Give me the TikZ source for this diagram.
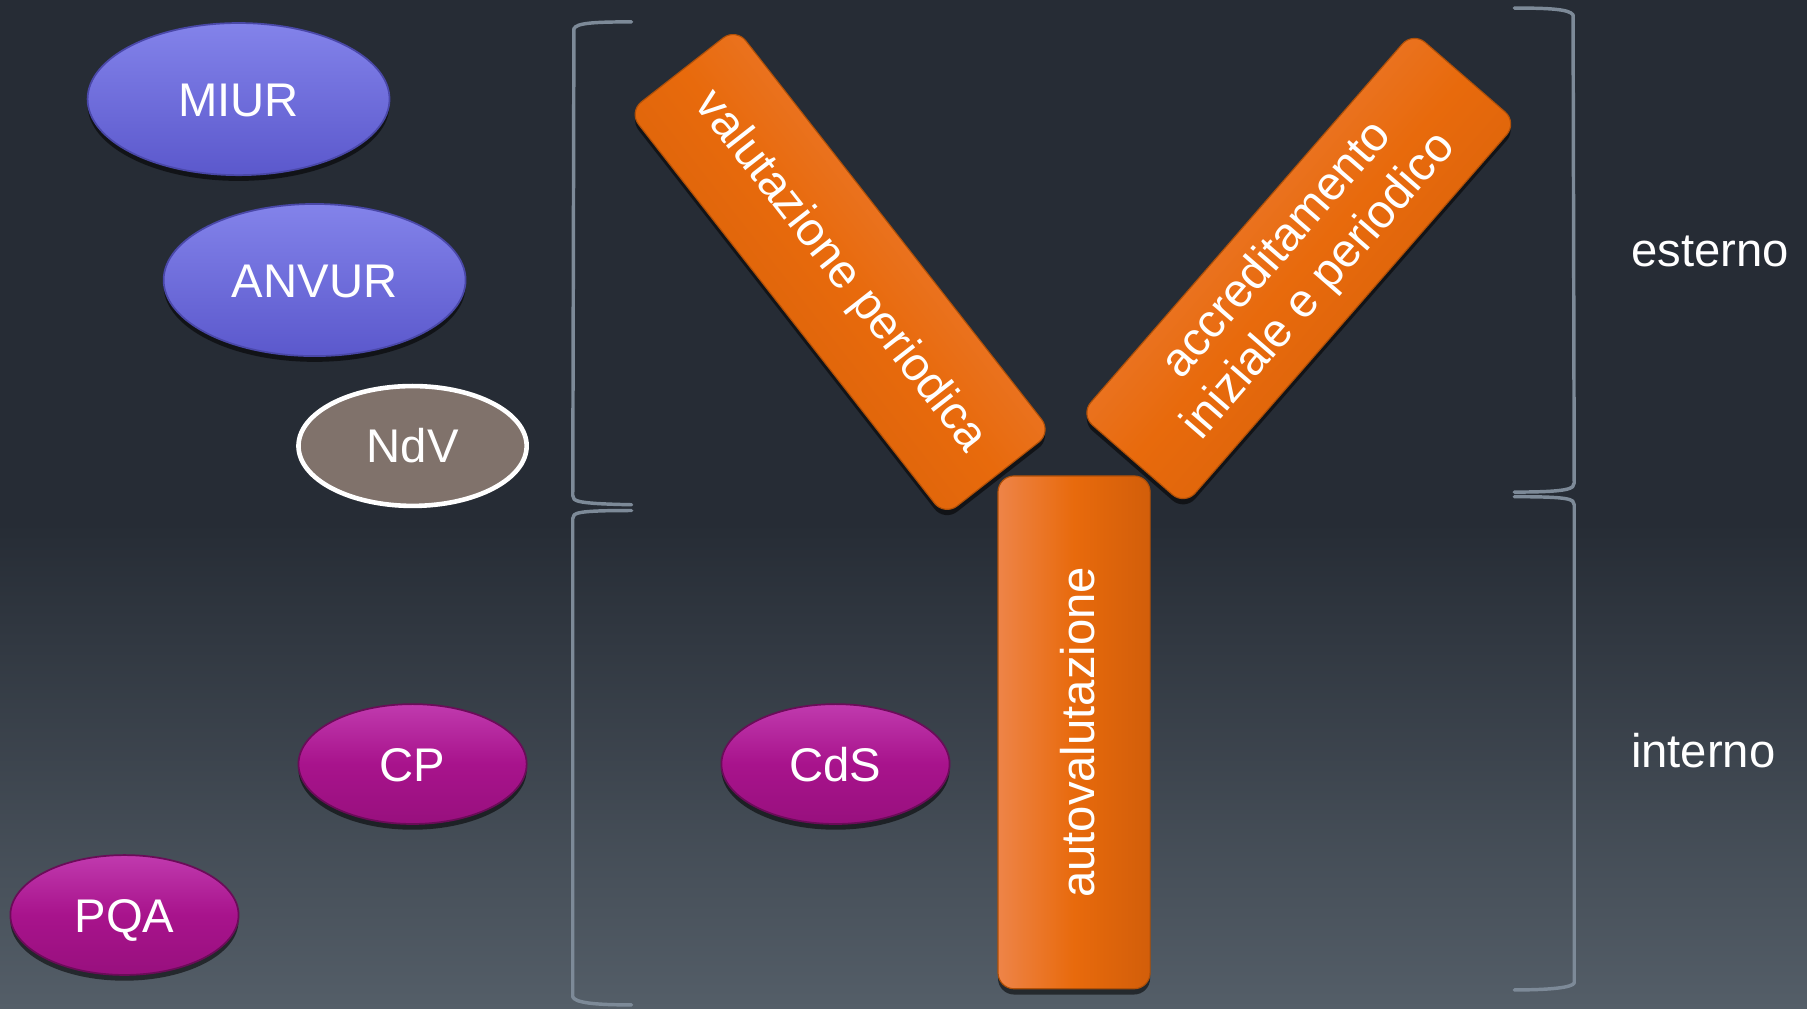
\documentclass[tikz,border=0pt]{standalone}
\usepackage{fontspec}
\setmainfont{Liberation Sans}
\usetikzlibrary{shapes.geometric,shadows}
\definecolor{bgtop}{HTML}{262C35}
\definecolor{bgbot}{HTML}{545E68}
\definecolor{brk}{HTML}{7D8A98}
\definecolor{blueT}{HTML}{8383EA}
\definecolor{blueB}{HTML}{5B58CC}
\definecolor{blueE}{HTML}{4A48A8}
\definecolor{magT}{HTML}{C03AAE}
\definecolor{magM}{HTML}{A8138C}
\definecolor{magB}{HTML}{98107E}
\definecolor{magE}{HTML}{6A0C58}
\definecolor{ndv}{HTML}{80726B}
\definecolor{orL}{HTML}{EE8448}
\definecolor{orM}{HTML}{E86A0C}
\definecolor{orR}{HTML}{D25E0A}
\definecolor{orE}{HTML}{B05008}
\tikzset{
  txt/.style={text=white,font=\fontsize{41}{48}\selectfont},
  caps/.style={text height=29.5pt,text depth=0pt},
  shad/.style={drop shadow={shadow xshift=0pt,shadow yshift=-5pt,opacity=0.55,fill=black}},
  blueell/.style={ellipse,inner sep=0pt,minimum width=262pt,minimum height=132pt,
    top color=blueT,bottom color=blueB,draw=blueE,line width=1.5pt,shad,txt,caps},
  magell/.style={ellipse,inner sep=0pt,minimum width=198pt,minimum height=104pt,
    top color=magT,bottom color=magB,middle color=magM,draw=magE,line width=1.5pt,shad,txt,caps},
  arm/.style={rectangle,rounded corners=14pt,inner sep=0pt,align=center,
    top color=orL,bottom color=orR,middle color=orM,draw=orE,line width=1pt,shad,txt},
  brace/.style={draw=brk,line width=3pt,line join=round,line cap=round},
}
\begin{document}
\begin{tikzpicture}[x=1pt,y=1pt]
\useasboundingbox (0,0) rectangle (1568,875);
\fill[bgtop] (0,420) rectangle (1568,875);
\shade[top color=bgtop,bottom color=bgbot] (0,0) rectangle (1568,421);

% brackets left
\coordinate (la1) at (548,856);
\coordinate (la2) at (548,437);
\coordinate (lb1) at (548,432);
\coordinate (lb2) at (548,3);
\draw[brace] (la1) .. controls (515,856) and (500,855) .. (498,850) -- (497,445)
  .. controls (497,440) and (500,438) .. (la2);
\draw[brace] (lb1) .. controls (500,432) and (497,430) .. (497,425) -- (497,10)
  .. controls (499,5) and (515,3) .. (lb2);
% brackets right
\coordinate (ra1) at (1314,868);
\coordinate (ra2) at (1314,448);
\coordinate (rb1) at (1314,444);
\coordinate (rb2) at (1314,16);
\draw[brace] (ra1) .. controls (1345,868) and (1362,867) .. (1365,862) -- (1366,456)
  .. controls (1366,451) and (1362,448) .. (ra2);
\draw[brace] (rb1) .. controls (1362,444) and (1366,442) .. (1366,437) -- (1366,22)
  .. controls (1364,18) and (1345,16) .. (rb2);

% ellipses
\node[blueell] (miur) at (207,789) {MIUR};
\node[blueell] (anvur) at (273,632) {ANVUR};
\node[ellipse,inner sep=0pt,minimum width=198pt,minimum height=104pt,fill=ndv,
  draw=white,line width=4pt,txt,caps] (ndv) at (358,488) {NdV};
\node[magell] (cp) at (358,212) {CP};
\node[magell] (cds) at (725,212) {CdS};
\node[magell] (pqa) at (108,81) {PQA};

% Y shape
\node[arm,shading angle=-52,minimum width=445pt,minimum height=118pt,rotate=-52] (vp) at (729,639)
  {valutazione periodica};
\node[arm,shading angle=49,minimum width=440pt,minimum height=120pt,rotate=49] (acc) at (1127,642)
  {accreditamento\\iniziale e periodico};
\node[arm,shading angle=90,minimum width=445pt,minimum height=132pt,rotate=90,
  text height=36pt,text depth=0pt] (auto) at (932,239.5)
  {autovalutazione};

% labels
\node[txt] (est) at (1484,657) {esterno};
\node[txt] (int) at (1478,224) {interno};
\end{tikzpicture}
\end{document}
